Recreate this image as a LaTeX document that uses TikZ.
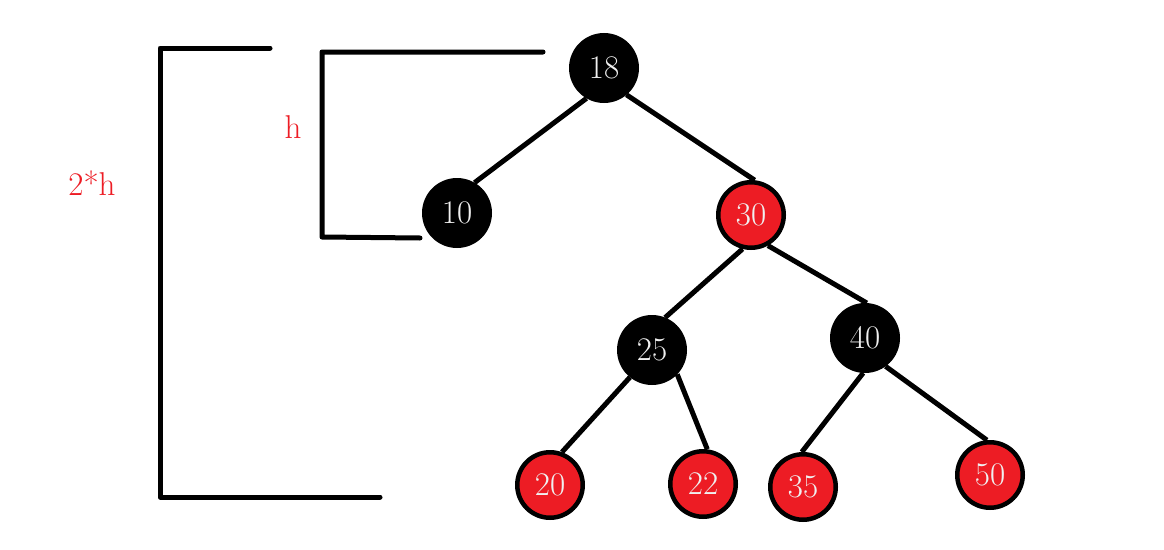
\documentclass[tikz,border=0pt]{standalone}
\usepackage{fontspec}
\usetikzlibrary{backgrounds}
\definecolor{rbred}{HTML}{ED1C24}
\definecolor{digit}{HTML}{F0F0F0}
\begin{document}
\begin{tikzpicture}[x=1pt,y=-1pt,
  blacknode/.style={circle,fill=black,draw=black,line width=4.5pt,minimum size=65.5pt,inner sep=0pt,text=digit,font=\fontsize{33}{36}\selectfont},
  rednode/.style={circle,fill=rbred,draw=black,line width=4.5pt,minimum size=65.5pt,inner sep=0pt,text=digit,font=\fontsize{33}{36}\selectfont},
  edge/.style={line width=5pt,black},
  bracket/.style={line width=5pt,black,line join=round,line cap=round},
  lbl/.style={text=rbred,font=\fontsize{33}{36}\selectfont,inner sep=0pt}]
\useasboundingbox (0,0) rectangle (1164,549);
\coordinate (c18) at (604,68);
\coordinate (c10) at (457,213);
\coordinate (c30) at (751,215);
\coordinate (c25) at (652,350);
\coordinate (c40) at (865,338);
\coordinate (c20) at (550,485);
\coordinate (c22) at (703,484);
\coordinate (c35) at (803,487);
\coordinate (c50) at (990,475);
% nodes
\node[blacknode] (n18) at (c18) {18};
\node[blacknode] (n10) at (c10) {10};
\node[rednode] (n30) at (c30) {30};
\node[blacknode] (n25) at (c25) {25};
\node[blacknode] (n40) at (c40) {40};
\node[rednode] (n20) at (c20) {20};
\node[rednode] (n22) at (c22) {22};
\node[rednode] (n35) at (c35) {35};
\node[rednode] (n50) at (c50) {50};
% edges behind the nodes
\begin{scope}[on background layer]
\draw[edge] (n18.240) -- (n10.60);
\draw[edge] (n18.310) -- (n30.84);
\draw[edge] (n30.256) -- (n25.68);
\draw[edge] (n30.299) -- (n40.87);
\draw[edge] (n25.231) -- (n20.70);
\draw[edge] (n25.316) -- (n22.83);
\draw[edge] (n40.267) -- (n35.92);
\draw[edge] (n40.306) -- (n50.95);
\end{scope}
% brackets
\coordinate (bt) at (270,48);
\coordinate (btl) at (160,48);
\coordinate (bbl) at (160,497);
\coordinate (bb) at (380,497);
\draw[bracket] (bt) -- (btl) -- (bbl) -- (bb);
\coordinate (st) at (543,52);
\coordinate (stl) at (322,52);
\coordinate (sbl) at (322,237);
\coordinate (sb) at (420,238);
\draw[bracket] (st) -- (stl) -- (sbl) -- (sb);
% labels
\node[lbl] (h) at (293,127) {h};
\node[lbl] (h2) at (92,183) {2*h};
\end{tikzpicture}
\end{document}
